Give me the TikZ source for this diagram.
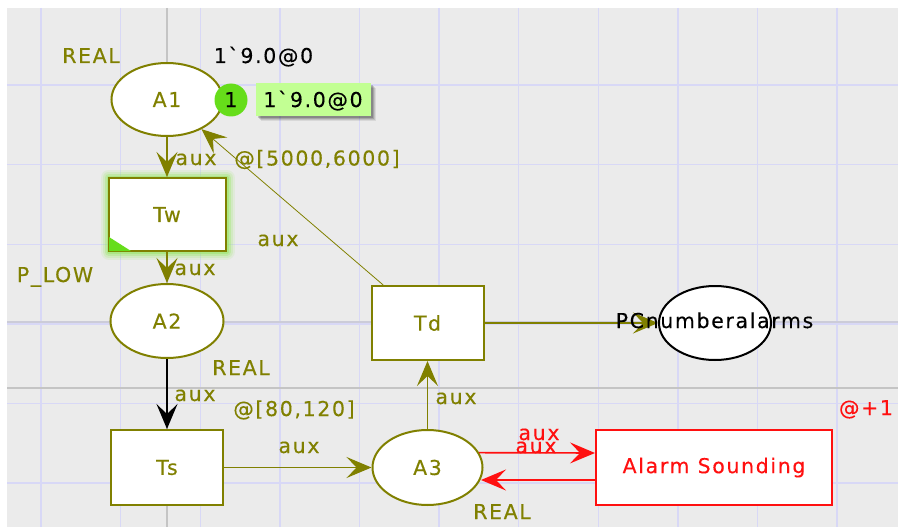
\documentclass[tikz,border=0pt]{standalone}
\usepackage{fontspec}
\setmainfont{DejaVu Sans}[LetterSpace=8, FakeBold=0.3, Ligatures=TeXOff]
\usetikzlibrary{arrows.meta,shapes.geometric}
\definecolor{olivec}{HTML}{808000}
\definecolor{bggray}{HTML}{EBEBEB}
\definecolor{gridc}{HTML}{D8D8F6}
\definecolor{guidec}{HTML}{C4C4C4}
\definecolor{tokgreen}{HTML}{66DD1A}
\definecolor{boxgreen}{HTML}{C2FF93}
\definecolor{redc}{HTML}{FF1010}
\tikzset{
  place/.style={ellipse, draw=olivec, line width=2pt, fill=white, inner sep=0pt, text=olivec},
  trans/.style={rectangle, draw=olivec, line width=2pt, fill=white, inner sep=0pt, text=olivec},
  tip/.style={-{Stealth[length=25pt,width=21pt,inset=10pt]}},
  arc/.style={draw=olivec, line width=1.3pt, tip},
  redarc/.style={draw=redc, line width=1.6pt, tip},
  lbl/.style={text=olivec, anchor=base, inner sep=0pt},
  rlbl/.style={text=redc, anchor=base, inner sep=0pt},
  blbl/.style={text=black, anchor=base, inner sep=0pt},
}
\begin{document}
\begin{tikzpicture}[x=1pt,y=-1pt,font=\fontsize{20.5}{24}\selectfont]
\useasboundingbox (0,0) rectangle (898,527);
\fill[white] (0,0) rectangle (898,527);
\fill[bggray] (7,8) rectangle (898,527);
% grid
\foreach \i in {0,...,10} \draw[gridc, line width=1.4pt] ({41+79.6*\i},8) -- ({41+79.6*\i},527);
\foreach \j in {0,...,5} \draw[gridc, line width=1.4pt] (7,{85+79.6*\j}) -- (898,{85+79.6*\j});
% guides
\draw[guidec, line width=1.2pt] (167,8) -- (167,527);
\draw[guidec, line width=1.2pt] (7,388) -- (898,388);
\draw[guidec!60!gridc, line width=1.2pt] (7,322) -- (898,322);

% places
\node[place, minimum width=111pt, minimum height=73pt] (A1) at (167,99.5) {A1};
\node[place, minimum width=113pt, minimum height=74pt] (A2) at (167,321) {A2};
\node[place, minimum width=110pt, minimum height=75pt] (A3) at (427.5,467.5) {A3};
\node[ellipse, draw=black, line width=2pt, fill=white, inner sep=0pt, minimum width=112pt, minimum height=74pt] (PC) at (715,323) {};

% Tw glow
\foreach \w/\o in {16/0.12,12/0.18,8/0.3,4/0.45}
  \draw[tokgreen!70!white, line width=\w pt, opacity=\o, line join=round] (108.5,177.5) rectangle (226.5,251.5);
% transitions
\node[trans, minimum width=117pt, minimum height=73pt] (Tw) at (167,214.5) {Tw};
\fill[tokgreen] (109,237) -- (109,251) -- (131,251) -- cycle;
\node[trans, minimum width=112pt, minimum height=75pt] (Ts) at (167,467.5) {Ts};
\node[trans, minimum width=112pt, minimum height=74pt] (Td) at (427.5,323) {Td};
\node[rectangle, draw=redc, line width=2pt, fill=white, inner sep=0pt, text=redc, minimum width=236pt, minimum height=75pt] (AS) at (714,467.5) {Alarm Sounding};

% arcs
\coordinate (r1) at (595,453);
\coordinate (r2) at (595,480);
\coordinate (r3) at (481,480);
\draw[arc] (A1) -- (Tw);
\draw[arc] (Tw) -- (A2);
\draw[draw=black, line width=1.3pt, tip] (A2) -- (Ts);
\draw[arc] (Ts) -- (A3);
\draw[arc] (A3) -- (Td);
\draw[arc] (Td) -- (PC);
\draw[draw=olivec, line width=0.8pt, tip] (Td) -- (A1);
\draw[redarc] (A3.16) -- (r1);
\draw[redarc] (r2) -- (r3);

% PC text (over arrow)
\node[blbl] (pct) at (714.5,328) {PCnumberalarms};

% token marking
\node[circle, fill=tokgreen, inner sep=0pt, minimum size=33pt] (tok) at (231,100) {};
\node[blbl] (tokn) at (231,107) {1};
\foreach \d/\o in {5/0.08,4/0.1,3/0.14,2/0.18}
  \fill[black, opacity=\o] (256+\d,83+\d) rectangle (371+\d,116+\d);
\node[rectangle, fill=boxgreen, inner sep=0pt, minimum width=115pt, minimum height=33pt] (mark) at (313.5,99.5) {};
\node[blbl] (markt) at (313,107) {1`9.0@0};

% labels
\node[lbl] (l1) at (91,63) {REAL};
\node[blbl] (l2) at (263.5,63) {1`9.0@0};
\node[lbl] (l3) at (196,165) {aux};
\node[lbl] (l4) at (317,165.5) {@[5000,6000]};
\node[lbl] (l5) at (278,246) {aux};
\node[lbl] (l6) at (195,275) {aux};
\node[lbl] (l7) at (55,282) {P\_LOW};
\node[lbl] (l8) at (241,375) {REAL};
\node[lbl] (l9) at (195,401) {aux};
\node[lbl] (l10) at (294,416) {@[80,120]};
\node[lbl] (l11) at (299,453) {aux};
\node[lbl] (l12) at (456,404) {aux};
\node[rlbl] (l13) at (539,440) {aux};
\node[rlbl] (l14) at (536,453) {aux};
\node[lbl] (l15) at (502,519) {REAL};
\node[rlbl] (l16) at (866,415) {@+1};
\end{tikzpicture}
\end{document}
